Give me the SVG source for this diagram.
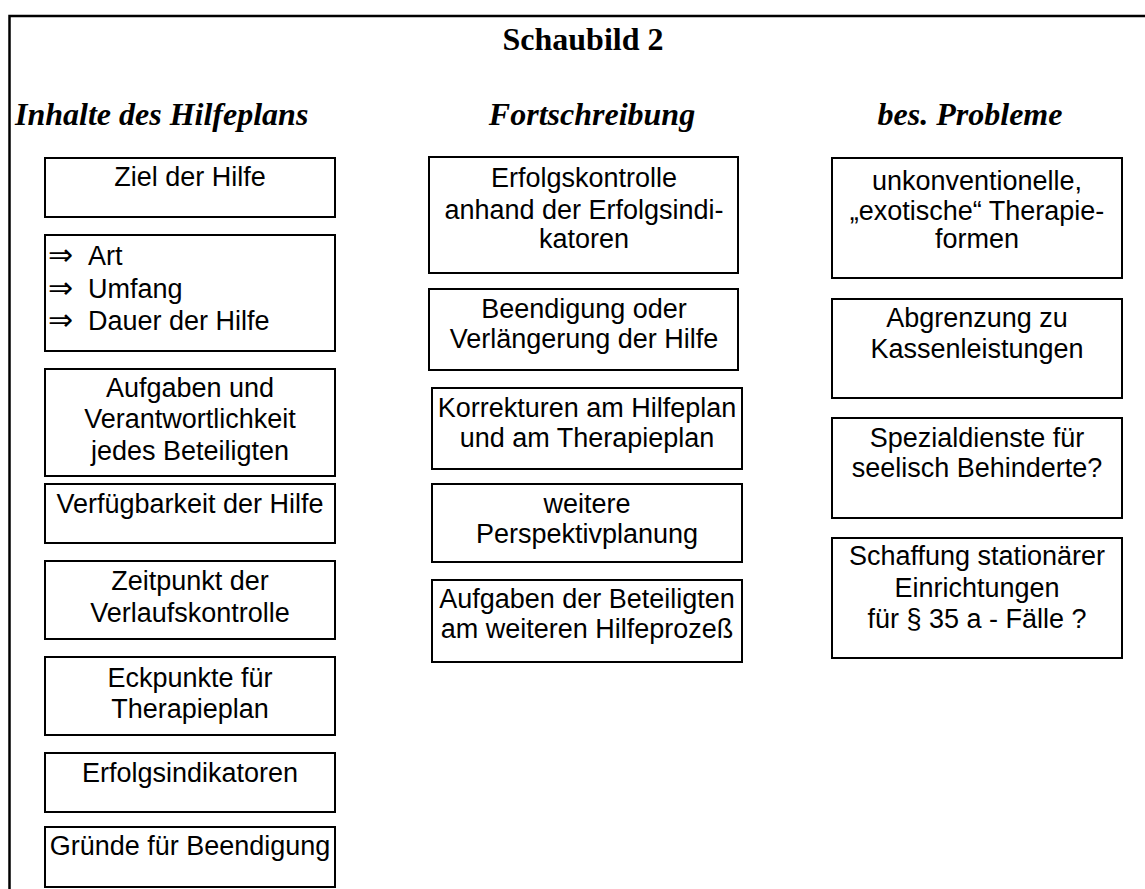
<svg xmlns="http://www.w3.org/2000/svg" width="1145" height="889" viewBox="0 0 1145 889">
  <style>
    .frame { fill: none; stroke: #000; stroke-width: 2.5; }
    .box { fill: #fff; stroke: #000; stroke-width: 2; }
    .t { font-family: "Liberation Sans", Arial, Helvetica, sans-serif; font-size: 27px; fill: #000; text-anchor: middle; }
    .ts { text-anchor: start; }
    .arrow { font-family: "DejaVu Sans", sans-serif; font-size: 30px; }
    .title { font-family: "Liberation Serif", "Times New Roman", serif; font-size: 32px; font-weight: bold; fill: #000; text-anchor: middle; }
    .head { font-family: "Liberation Serif", "Times New Roman", serif; font-size: 32px; font-weight: bold; font-style: italic; fill: #000; text-anchor: middle; }
  </style>

  <rect width="1145" height="889" fill="#fff"/>

  <!-- outer frame: top rule and left rule -->
  <path class="frame" d="M9.5,889 V16 H1145"/>

  <text class="title" x="583" y="50">Schaubild 2</text>
  <text class="head" x="15" y="125" style="text-anchor:start">Inhalte des Hilfeplans</text>
  <text class="head" x="592" y="125">Fortschreibung</text>
  <text class="head" x="970" y="125">bes. Probleme</text>

  <!-- column 1: Inhalte des Hilfeplans -->
  <g id="ziel">
    <rect class="box" x="45" y="158" width="290" height="59"/>
    <text class="t" x="190" y="186">Ziel der Hilfe</text>
  </g>
  <g id="art-umfang-dauer">
    <rect class="box" x="45" y="235" width="290" height="116"/>
    <text class="t ts arrow" x="48" y="265">⇒</text>
    <text class="t ts" x="88" y="265">Art</text>
    <text class="t ts arrow" x="48" y="298">⇒</text>
    <text class="t ts" x="88" y="298">Umfang</text>
    <text class="t ts arrow" x="48" y="330">⇒</text>
    <text class="t ts" x="88" y="330">Dauer der Hilfe</text>
  </g>
  <g id="aufgaben">
    <rect class="box" x="45" y="369" width="290" height="107"/>
    <text class="t" x="190" y="397">Aufgaben und</text>
    <text class="t" x="190" y="428">Verantwortlichkeit</text>
    <text class="t" x="190" y="460">jedes Beteiligten</text>
  </g>
  <g id="verfuegbarkeit">
    <rect class="box" x="45" y="484" width="290" height="59"/>
    <text class="t" x="190" y="513">Verfügbarkeit der Hilfe</text>
  </g>
  <g id="zeitpunkt">
    <rect class="box" x="45" y="561" width="290" height="78"/>
    <text class="t" x="190" y="590">Zeitpunkt der</text>
    <text class="t" x="190" y="622">Verlaufskontrolle</text>
  </g>
  <g id="eckpunkte">
    <rect class="box" x="45" y="657" width="290" height="78"/>
    <text class="t" x="190" y="687">Eckpunkte für</text>
    <text class="t" x="190" y="718">Therapieplan</text>
  </g>
  <g id="erfolgsindikatoren">
    <rect class="box" x="45" y="753" width="290" height="59"/>
    <text class="t" x="190" y="782">Erfolgsindikatoren</text>
  </g>
  <g id="gruende">
    <rect class="box" x="45" y="827" width="290" height="60"/>
    <text class="t" x="190" y="855">Gründe für Beendigung</text>
  </g>

  <!-- column 2: Fortschreibung -->
  <g id="erfolgskontrolle">
    <rect class="box" x="429" y="157" width="309" height="116"/>
    <text class="t" x="584" y="187">Erfolgskontrolle</text>
    <text class="t" x="584" y="219">anhand der Erfolgsindi-</text>
    <text class="t" x="584" y="248">katoren</text>
  </g>
  <g id="beendigung">
    <rect class="box" x="429" y="289" width="309" height="81"/>
    <text class="t" x="584" y="318">Beendigung oder</text>
    <text class="t" x="584" y="348">Verlängerung der Hilfe</text>
  </g>
  <g id="korrekturen">
    <rect class="box" x="432" y="388" width="310" height="81"/>
    <text class="t" x="587" y="417">Korrekturen am Hilfeplan</text>
    <text class="t" x="587" y="447">und am Therapieplan</text>
  </g>
  <g id="perspektive">
    <rect class="box" x="432" y="484" width="310" height="78"/>
    <text class="t" x="587" y="513">weitere</text>
    <text class="t" x="587" y="543">Perspektivplanung</text>
  </g>
  <g id="aufgaben-beteiligte">
    <rect class="box" x="432" y="580" width="310" height="82"/>
    <text class="t" x="587" y="608">Aufgaben der Beteiligten</text>
    <text class="t" x="587" y="638">am weiteren Hilfeprozeß</text>
  </g>

  <!-- column 3: bes. Probleme -->
  <g id="therapieformen">
    <rect class="box" x="832" y="158" width="290" height="120"/>
    <text class="t" x="977" y="190">unkonventionelle,</text>
    <text class="t" x="977" y="220">„exotische“ Therapie-</text>
    <text class="t" x="977" y="248">formen</text>
  </g>
  <g id="abgrenzung">
    <rect class="box" x="832" y="299" width="290" height="99"/>
    <text class="t" x="977" y="327">Abgrenzung zu</text>
    <text class="t" x="977" y="358">Kassenleistungen</text>
  </g>
  <g id="spezialdienste">
    <rect class="box" x="832" y="418" width="290" height="100"/>
    <text class="t" x="977" y="447">Spezialdienste für</text>
    <text class="t" x="977" y="477">seelisch Behinderte?</text>
  </g>
  <g id="stationaer">
    <rect class="box" x="832" y="538" width="290" height="120"/>
    <text class="t" x="977" y="565">Schaffung stationärer</text>
    <text class="t" x="977" y="597">Einrichtungen</text>
    <text class="t" x="977" y="628">für § 35 a - Fälle ?</text>
  </g>

  <!-- no connectors in this chart -->
  <g id="connectors"/>
</svg>
